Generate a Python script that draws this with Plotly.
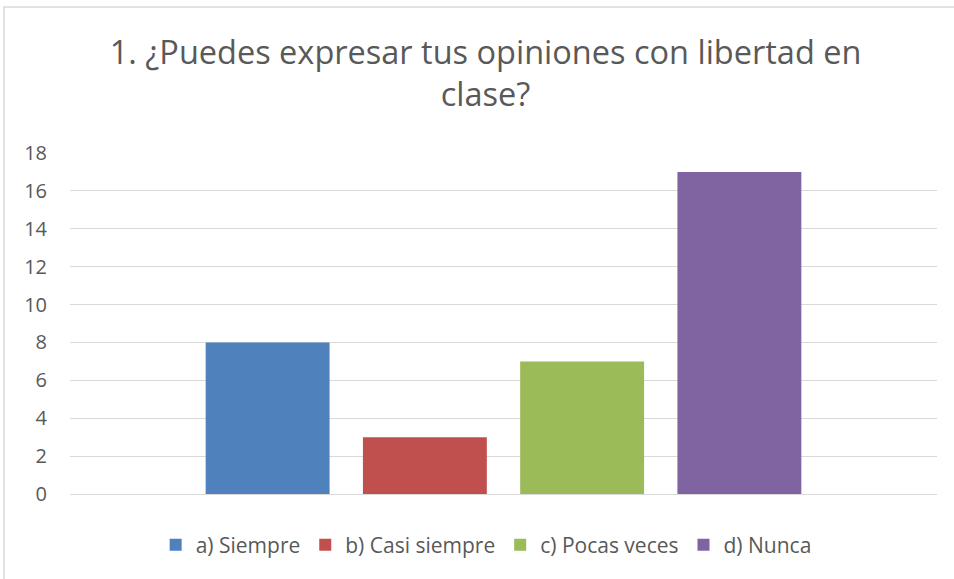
import plotly.graph_objects as go

series = ["a) Siempre", "b) Casi siempre", "c) Pocas veces", "d) Nunca"]
values = [8, 3, 7, 17]
colors = ["#4F81BD", "#C0504D", "#9BBB59", "#8064A2"]
category = [""]
tick_vals = [0, 2, 4, 6, 8, 10, 12, 14, 16, 18]

FONT = "'Open Sans', sans-serif"

fig = go.Figure()
for name, v, c in zip(series, values, colors):
    fig.add_trace(go.Bar(x=category, y=[v], name=name, marker=dict(color=c, line=dict(width=0))))

fig.update_layout(
    width=954, height=579, autosize=False,
    margin=dict(l=70, r=17, t=153, b=85, autoexpand=False),
    paper_bgcolor="white", plot_bgcolor="white",
    barmode="group", bargap=0.2745, bargroupgap=0.212,
    title=dict(text="1. ¿Puedes expresar tus opiniones con libertad en<br>clase?",
               x=0.509, xanchor="center", y=0.89, yanchor="middle",
               font=dict(family=FONT, size=32.5, color="#595959")),
    font=dict(family=FONT, color="#595959"),
    legend=dict(orientation="h", x=0.48, xanchor="center",
                y=-0.15, yanchor="middle", font=dict(size=21, color="#595959"),
                traceorder="normal", itemwidth=30),
    yaxis=dict(range=[0, 18], tickvals=tick_vals, showgrid=True, gridcolor="#D9D9D9",
               gridwidth=1, zeroline=False, showline=False, ticks="",
               tickfont=dict(size=20, color="#595959"), ticklabelstandoff=22),
    xaxis=dict(showticklabels=False, showline=True, linecolor="#D9D9D9", linewidth=1,
               ticks="", range=[-0.5, 0.5]),
    shapes=[dict(type="rect", xref="paper", yref="paper", x0=-0.0761, x1=1.2, y0=-0.5, y1=1.428,
                 line=dict(color="#D9D9D9", width=1.5), fillcolor="rgba(0,0,0,0)", layer="below")],
)

fig.write_html("out.html", config={"displayModeBar": False},
               post_script="document.body.style.margin='0';")
